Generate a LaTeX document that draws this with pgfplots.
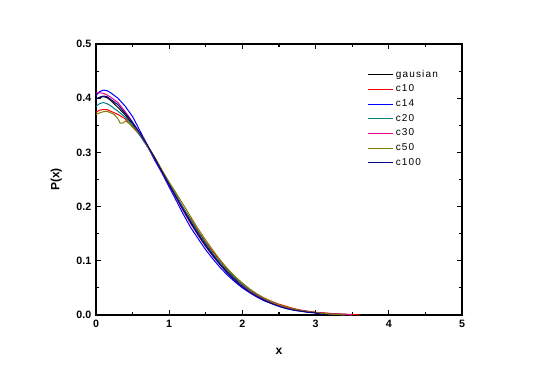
\documentclass[border=0pt]{standalone}
\usepackage{fontspec}
\setmainfont{Liberation Sans}
\usepackage{pgfplots}
\pgfplotsset{compat=1.18}
\definecolor{cteal}{RGB}{0,128,128}
\definecolor{colive}{RGB}{128,128,0}
\definecolor{cnavy}{RGB}{0,0,128}
\begin{document}
\begin{tikzpicture}
\useasboundingbox (-72pt,-48pt) rectangle (331.5pt,236.25pt);
\begin{axis}[
  scale only axis, width=274.5pt, height=203.25pt,
  xmin=0, xmax=5, ymin=0, ymax=0.5,
  xtick={0,1,2,3,4,5}, ytick={0,0.1,0.2,0.3,0.4,0.5},
  minor x tick num=1, minor y tick num=1,
  tick align=inside, tick pos=both,
  major tick length=4pt, minor tick length=2.5pt,
  axis line style={line width=1pt}, every tick/.style={line width=0.8pt, black},
  /pgf/number format/assume math mode=true,
  ticklabel style={font=\fontsize{8}{9.6}\selectfont\bfseries},
  yticklabel style={/pgf/number format/.cd, fixed, fixed zerofill, precision=1},
  xticklabel style={/pgf/number format/.cd, fixed, precision=0},
  xlabel={x}, ylabel={P(x)},
  label style={font=\fontsize{9}{10.8}\selectfont\bfseries},
  xlabel style={yshift=-9pt},
  ylabel style={yshift=4pt},
  legend style={at={(0.73,0.925)}, anchor=north west, draw=none, fill=none,
    font=\fontsize{7.5}{9}\selectfont\addfontfeature{LetterSpace=12}, row sep=0.3pt},
  legend cell align=left,
  legend image code/.code={\draw[#1] (0cm,0cm) -- (0.65cm,0cm);},
  every axis plot/.append style={line width=0.75pt},
]
\addplot[black] coordinates {(0,0.399) (0.05,0.401) (0.1,0.403) (0.15,0.401) (0.2,0.396) (0.3,0.383) (0.4,0.369) (0.5,0.352) (0.6,0.333) (0.7,0.312) (0.8,0.290) (0.9,0.266) (1.0,0.242) (1.1,0.218) (1.2,0.194) (1.3,0.171) (1.4,0.150) (1.5,0.130) (1.6,0.111) (1.7,0.094) (1.8,0.079) (1.9,0.066) (2.0,0.054) (2.1,0.044) (2.2,0.0355) (2.3,0.028) (2.4,0.022) (2.5,0.0175) (2.6,0.0136) (2.7,0.0104) (2.8,0.0079) (2.9,0.006) (3.0,0.0044) (3.1,0.0033) (3.2,0.0024) (3.3,0.0017) (3.4,0.0012) (3.5,0.0)};
\addlegendentry{gausian}
\addplot[red] coordinates {(0,0.374) (0.05,0.378) (0.1,0.379) (0.15,0.379) (0.2,0.376) (0.3,0.370) (0.4,0.362) (0.5,0.347) (0.6,0.332) (0.7,0.312) (0.8,0.287) (0.9,0.266) (1.0,0.243) (1.1,0.220) (1.2,0.196) (1.3,0.176) (1.4,0.154) (1.5,0.134) (1.6,0.116) (1.7,0.099) (1.8,0.083) (1.9,0.070) (2.0,0.058) (2.1,0.047) (2.2,0.038) (2.3,0.031) (2.4,0.025) (2.5,0.020) (2.6,0.016) (2.7,0.012) (2.8,0.009) (2.9,0.007) (3.0,0.005) (3.1,0.004) (3.2,0.003) (3.3,0.002) (3.4,0.0015) (3.5,0.001) (3.6,0.0)};
\addlegendentry{c10}
\addplot[blue] coordinates {(0,0.405) (0.05,0.412) (0.1,0.415) (0.15,0.414) (0.2,0.410) (0.25,0.405) (0.3,0.400) (0.4,0.385) (0.5,0.366) (0.6,0.340) (0.7,0.314) (0.8,0.286) (0.9,0.262) (1.0,0.236) (1.1,0.210) (1.2,0.184) (1.3,0.160) (1.4,0.140) (1.5,0.120) (1.6,0.103) (1.7,0.087) (1.8,0.073) (1.9,0.061) (2.0,0.050) (2.1,0.041) (2.2,0.033) (2.3,0.026) (2.4,0.021) (2.5,0.016) (2.6,0.012) (2.7,0.009) (2.8,0.007) (2.9,0.005) (3.0,0.004) (3.1,0.003) (3.2,0.002) (3.3,0.001) (3.4,0.0)};
\addlegendentry{c14}
\addplot[cteal] coordinates {(0,0.385) (0.05,0.390) (0.1,0.392) (0.15,0.390) (0.2,0.386) (0.3,0.376) (0.4,0.365) (0.5,0.350) (0.6,0.331) (0.7,0.311) (0.8,0.289) (0.9,0.266) (1.0,0.243) (1.1,0.219) (1.2,0.196) (1.3,0.174) (1.4,0.152) (1.5,0.132) (1.6,0.113) (1.7,0.096) (1.8,0.081) (1.9,0.068) (2.0,0.056) (2.1,0.045) (2.2,0.036) (2.3,0.029) (2.4,0.023) (2.5,0.018) (2.6,0.014) (2.7,0.011) (2.8,0.008) (2.9,0.006) (3.0,0.0045) (3.1,0.003) (3.2,0.002) (3.3,0.0015) (3.4,0.001) (3.5,0.0)};
\addlegendentry{c20}
\addplot[magenta] coordinates {(0,0.410) (0.05,0.410) (0.1,0.409) (0.15,0.406) (0.2,0.402) (0.3,0.392) (0.4,0.375) (0.5,0.356) (0.6,0.334) (0.7,0.313) (0.8,0.290) (0.9,0.264) (1.0,0.240) (1.1,0.215) (1.2,0.190) (1.3,0.167) (1.4,0.146) (1.5,0.126) (1.6,0.108) (1.7,0.092) (1.8,0.077) (1.9,0.064) (2.0,0.053) (2.1,0.043) (2.2,0.035) (2.3,0.028) (2.4,0.022) (2.5,0.017) (2.6,0.013) (2.7,0.010) (2.8,0.008) (2.9,0.006) (3.0,0.0045) (3.1,0.0035) (3.2,0.0025) (3.3,0.0015) (3.4,0.001) (3.5,0.0)};
\addlegendentry{c30}
\addplot[colive] coordinates {(0,0.370) (0.05,0.373) (0.1,0.375) (0.15,0.376) (0.2,0.373) (0.25,0.370) (0.3,0.362) (0.33,0.354) (0.37,0.354) (0.4,0.358) (0.45,0.354) (0.5,0.347) (0.6,0.335) (0.65,0.326) (0.7,0.311) (0.75,0.303) (0.8,0.292) (0.9,0.268) (1.0,0.245) (1.1,0.224) (1.2,0.202) (1.3,0.180) (1.4,0.158) (1.5,0.138) (1.6,0.119) (1.7,0.101) (1.8,0.085) (1.9,0.071) (2.0,0.059) (2.1,0.048) (2.2,0.039) (2.3,0.031) (2.4,0.025) (2.5,0.019) (2.6,0.015) (2.7,0.011) (2.8,0.008) (2.9,0.006) (3.0,0.0045) (3.1,0.003) (3.2,0.002) (3.3,0.001) (3.4,0.0)};
\addlegendentry{c50}
\addplot[cnavy] coordinates {(0,0.398) (0.05,0.402) (0.1,0.404) (0.15,0.403) (0.2,0.398) (0.3,0.388) (0.4,0.372) (0.5,0.355) (0.6,0.336) (0.7,0.314) (0.8,0.290) (0.9,0.265) (1.0,0.240) (1.1,0.216) (1.2,0.192) (1.3,0.169) (1.4,0.147) (1.5,0.127) (1.6,0.109) (1.7,0.092) (1.8,0.077) (1.9,0.063) (2.0,0.052) (2.1,0.042) (2.2,0.034) (2.3,0.027) (2.4,0.021) (2.5,0.016) (2.6,0.012) (2.7,0.009) (2.8,0.007) (2.9,0.005) (3.0,0.004) (3.1,0.0)};
\addlegendentry{c100}
\end{axis}
\end{tikzpicture}
\end{document}
